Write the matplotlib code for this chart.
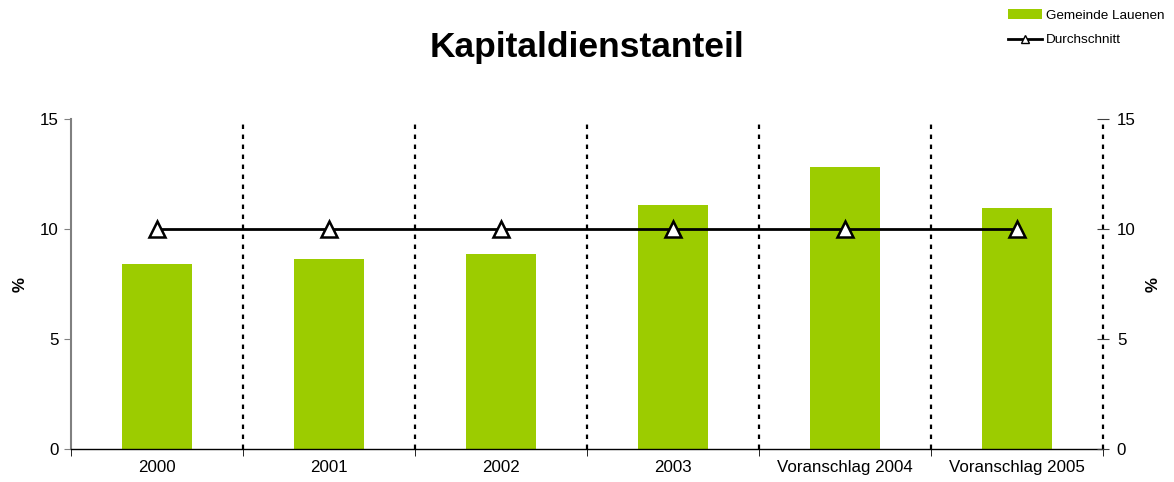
import matplotlib

matplotlib.use("Agg")
import matplotlib.pyplot as plt
import numpy as np
from matplotlib.lines import Line2D
from matplotlib.patches import Patch

CATEGORIES = ["2000", "2001", "2002", "2003", "Voranschlag 2004", "Voranschlag 2005"]
GEMEINDE = [8.41, 8.64, 8.86, 11.09, 12.82, 10.95]
DURCHSCHNITT = [10.0, 10.0, 10.0, 10.0, 10.0, 10.0]
Y_TICKS = [0, 5, 10, 15]

GREEN = "#9ccc00"
TICK_FS = 12.2

plt.rcParams.update({"font.family": ["Liberation Sans", "DejaVu Sans"]})

fig = plt.figure(figsize=(11.74, 4.82), dpi=100)
ax = fig.add_axes([0.0605, 0.0685, 0.879, 0.6845])

x = np.arange(len(CATEGORIES))
ax.bar(x, GEMEINDE, width=0.41, color=GREEN, zorder=2)
ax.plot(x, DURCHSCHNITT, color="black", linewidth=2, marker="^", markersize=12,
        markerfacecolor="white", markeredgecolor="black", markeredgewidth=1.8, zorder=4)

ax.set_xlim(-0.5, len(CATEGORIES) - 0.5)
ax.set_ylim(0, 15)
ax.set_yticks(Y_TICKS)
ax.set_yticklabels([str(t) for t in Y_TICKS], fontsize=TICK_FS)
ax.set_xticks(x)
ax.set_xticklabels(CATEGORIES, fontsize=TICK_FS)
ax.tick_params(axis="x", length=0, pad=8)
ax.set_xticks(np.arange(len(CATEGORIES) + 1) - 0.5, minor=True)
ax.tick_params(axis="x", which="minor", length=5, direction="out", color="black")
ax.tick_params(axis="y", length=5, direction="out", color="#808080", pad=4)

for b in np.arange(1, len(CATEGORIES) + 1) - 0.5:
    ax.axvline(b, color="black", linestyle=(0, (2, 2.5)), linewidth=1.6, zorder=1,
               clip_on=False)

for side in ("top", "right"):
    ax.spines[side].set_visible(False)
ax.spines["left"].set_color("#808080")
ax.spines["left"].set_linewidth(1.5)
ax.spines["bottom"].set_color("black")
ax.spines["bottom"].set_linewidth(1.0)

ax.set_ylabel("%", fontsize=TICK_FS, fontweight="bold")
ax.yaxis.set_label_coords(-0.042, 0.5)

ax2 = ax.twinx()
ax2.set_ylim(0, 15)
ax2.set_yticks(Y_TICKS)
ax2.set_yticklabels([str(t) for t in Y_TICKS], fontsize=TICK_FS)
ax2.tick_params(axis="y", length=8, direction="inout", color="#404040", pad=6)
for side in ("top", "left", "bottom", "right"):
    ax2.spines[side].set_visible(False)
ax2.set_ylabel("%", fontsize=TICK_FS, fontweight="bold", rotation=90)
ax2.yaxis.set_label_coords(1.041, 0.5)

fig.text(0.5, 0.902, "Kapitaldienstanteil", ha="center", va="center",
         fontsize=25.5, fontweight="bold")

handles = [
    Patch(facecolor=GREEN, edgecolor="none", label="Gemeinde Lauenen"),
    Line2D([0], [0], color="black", linewidth=2, marker="^", markersize=6,
           markerfacecolor="white", markeredgecolor="black", label="Durchschnitt"),
]
fig.legend(handles=handles, loc="upper right", bbox_to_anchor=(1.0, 1.0),
           frameon=False, fontsize=9.7, handlelength=2.5, handletextpad=0.3,
           labelspacing=0.9, borderaxespad=0.3)

fig.savefig("out.png", dpi=100)
